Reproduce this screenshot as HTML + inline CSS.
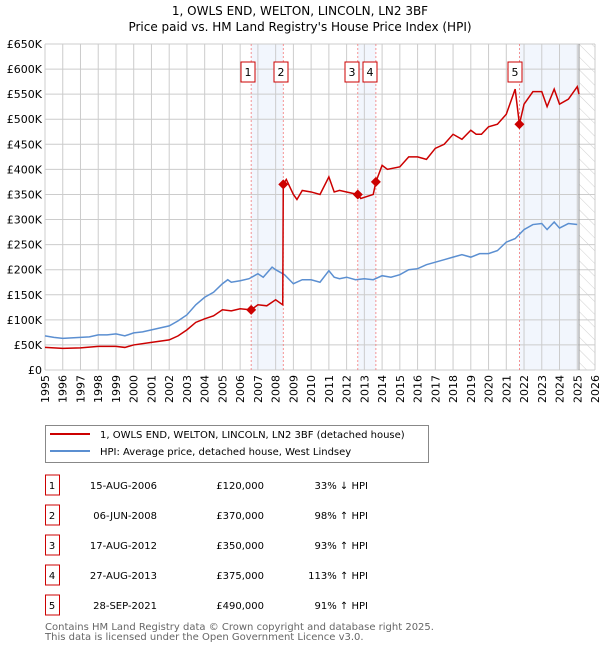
<!DOCTYPE html>
<html><head><meta charset="utf-8"><style>
body{margin:0;background:#fff;font-family:"DejaVu Sans","Liberation Sans",sans-serif;}
svg text{font-family:"DejaVu Sans","Liberation Sans",sans-serif;}
</style></head><body>
<svg id="c" width="600" height="650" xmlns="http://www.w3.org/2000/svg">
<defs><pattern id="hatch" width="9" height="9" patternUnits="userSpaceOnUse" patternTransform="rotate(-45)"><line x1="0" y1="0" x2="0" y2="9" stroke="#d0d0d0" stroke-width="1"/></pattern></defs>
<text x="300" y="15" font-size="12" text-anchor="middle">1, OWLS END, WELTON, LINCOLN, LN2 3BF</text>
<text x="300" y="31" font-size="12" text-anchor="middle">Price paid vs. HM Land Registry's House Price Index (HPI)</text>
<g id="plot"></g>
<rect x="45.5" y="425.5" width="383" height="37" fill="#fff" stroke="#888"/>
<line x1="50" y1="434" x2="90" y2="434" stroke="#cc0000" stroke-width="2"/>
<text x="100" y="438" font-size="10">1, OWLS END, WELTON, LINCOLN, LN2 3BF (detached house)</text>
<line x1="50" y1="451" x2="90" y2="451" stroke="#5b8fd1" stroke-width="2"/>
<text x="100" y="455" font-size="10">HPI: Average price, detached house, West Lindsey</text>
<g id="table" font-size="10"></g>
<text x="45" y="630" font-size="10" fill="#666">Contains HM Land Registry data © Crown copyright and database right 2025.</text>
<text x="45" y="640" font-size="10" fill="#666">This data is licensed under the Open Government Licence v3.0.</text>
</svg>
<script>
const yTicks=[0,50,100,150,200,250,300,350,400,450,500,550,600,650];
const years=[1995,1996,1997,1998,1999,2000,2001,2002,2003,2004,2005,2006,2007,2008,2009,2010,2011,2012,2013,2014,2015,2016,2017,2018,2019,2020,2021,2022,2023,2024,2025,2026];
const hpiT=[1995,1995.5,1996,1996.5,1997,1997.5,1998,1998.5,1999,1999.5,2000,2000.5,2001,2001.5,2002,2002.5,2003,2003.5,2004,2004.5,2005,2005.3,2005.5,2006,2006.5,2007,2007.3,2007.8,2008,2008.5,2009,2009.5,2010,2010.5,2011,2011.3,2011.6,2012,2012.5,2013,2013.5,2014,2014.5,2015,2015.5,2016,2016.5,2017,2017.5,2018,2018.5,2019,2019.5,2020,2020.5,2021,2021.5,2022,2022.5,2023,2023.3,2023.7,2024,2024.5,2025];
const hpiV=[68,65,63,64,65,66,70,70,72,68,74,76,80,84,88,98,110,130,145,155,172,180,175,178,182,192,185,205,200,190,172,180,180,175,198,185,182,185,180,182,180,188,185,190,200,202,210,215,220,225,230,225,232,232,238,255,262,280,290,292,280,295,283,292,290];
const propT=[1995,1996,1997,1998,1999,1999.5,2000,2001,2002,2002.5,2003,2003.5,2004,2004.5,2005,2005.5,2006,2006.62,2007,2007.5,2008,2008.4,2008.43,2008.6,2009,2009.2,2009.5,2010,2010.5,2011,2011.3,2011.6,2012,2012.63,2012.8,2013.5,2013.65,2014,2014.3,2015,2015.5,2016,2016.5,2017,2017.5,2018,2018.5,2019,2019.3,2019.6,2020,2020.5,2021,2021.5,2021.74,2022,2022.5,2023,2023.3,2023.7,2024,2024.5,2025,2025.1];
const propV=[45,43,44,47,47,45,50,55,60,68,80,95,102,108,120,118,122,120,130,128,140,130,370,380,350,340,358,355,350,385,355,358,355,350,342,350,375,408,400,405,425,425,420,442,450,470,460,478,470,470,485,490,510,560,490,530,555,555,525,560,530,540,565,550];
const saleT=[2006.62,2008.43,2012.63,2013.65,2021.74];
const saleV=[120,370,350,375,490];
const saleDates=["15-AUG-2006","06-JUN-2008","17-AUG-2012","27-AUG-2013","28-SEP-2021"];
const salePrices=["£120,000","£370,000","£350,000","£375,000","£490,000"];
const saleHpi=["33% ↓ HPI","98% ↑ HPI","93% ↑ HPI","113% ↑ HPI","91% ↑ HPI"];

const X0=45,X1=595,Y0=370,Y1=44;
const xs=t=>X0+(t-1995)/(2026-1995)*(X1-X0);
const ys=v=>Y0-v/650*(Y0-Y1);
const NS="http://www.w3.org/2000/svg";
const plot=document.getElementById('plot');
function mk(tag,attrs,parent){const e=document.createElementNS(NS,tag);for(const k in attrs)e.setAttribute(k,attrs[k]);(parent||plot).appendChild(e);return e;}
const shade=[[0,1],[2,3]];
shade.forEach((p,i)=>{const r=mk('rect',{x:xs(saleT[p[0]]),y:Y1,width:xs(saleT[p[1]])-xs(saleT[p[0]]),height:Y0-Y1,fill:'#f2f6fd'});

});
const r5=mk('rect',{x:xs(saleT[4]),y:Y1,width:xs(2025.1)-xs(saleT[4]),height:Y0-Y1,fill:'#f2f6fd'});


const hr=mk('rect',{x:xs(2025.1),y:Y1,width:X1-xs(2025.1),height:Y0-Y1,fill:'url(#hatch)'});


yTicks.forEach(v=>{const l=mk('line',{x1:X0,x2:X1,y1:ys(v),y2:ys(v),stroke:'#cccccc'});


const t=mk('text',{x:X0-3,y:ys(v)+4,'font-size':11,'text-anchor':'end'});t.textContent=v===0?'£0':'£'+v+'K';

});
years.forEach(y=>{const l=mk('line',{x1:xs(y),x2:xs(y),y1:Y1,y2:Y0,stroke:'#cccccc'});


const t=mk('text',{x:0,y:0,'font-size':11,'text-anchor':'end',transform:`translate(${xs(y)+4},${Y0+5}) rotate(-90)`});t.textContent=y;

});
const ln=mk('line',{x1:xs(2025.1),x2:xs(2025.1),y1:Y1,y2:Y0,stroke:'#999'});


saleT.forEach((t,i)=>{const l=mk('line',{x1:xs(t),x2:xs(t),y1:Y1,y2:Y0,stroke:'#f37a7a','stroke-width':0.8,'stroke-dasharray':'2,2'});

});
saleT.forEach((t,i)=>{
 const left=[241,274,345,363,508][i];
 const b=mk('rect',{x:left,y:62,width:14,height:20,fill:'#fff',stroke:'#cc0000'});
 
 
 const tx=mk('text',{x:left+7,y:76,'font-size':11,'text-anchor':'middle'});tx.textContent=i+1;
 
 });
const hp=mk('polyline',{points:hpiT.map((t,i)=>xs(t)+','+ys(hpiV[i])).join(' '),fill:'none',stroke:'#5b8fd1','stroke-width':1.5});


const pp=mk('polyline',{points:propT.map((t,i)=>xs(t)+','+ys(propV[i])).join(' '),fill:'none',stroke:'#cc0000','stroke-width':1.5});


saleT.forEach((t,i)=>{const x=xs(t),y=ys(saleV[i]);const d=mk('polygon',{points:`${x},${y-5} ${x+5},${y} ${x},${y+5} ${x-5},${y}`,fill:'#cc0000'});

});
const tb=document.getElementById('table');
saleT.forEach((t,i)=>{const y=483+i*30;
 const b=mk('rect',{x:45.5,y:y-8,width:14,height:20,fill:'#fff',stroke:'#cc0000'},tb);
 
 
 const c=[[52,i+1,'middle'],[157,saleDates[i],'end'],[264,salePrices[i],'end'],[368,saleHpi[i],'end']];
 c.forEach(cc=>{const e=mk('text',{x:cc[0],y:y+6,'text-anchor':cc[2]},tb);e.textContent=cc[1];
 
 });});
</script>
</body></html>
